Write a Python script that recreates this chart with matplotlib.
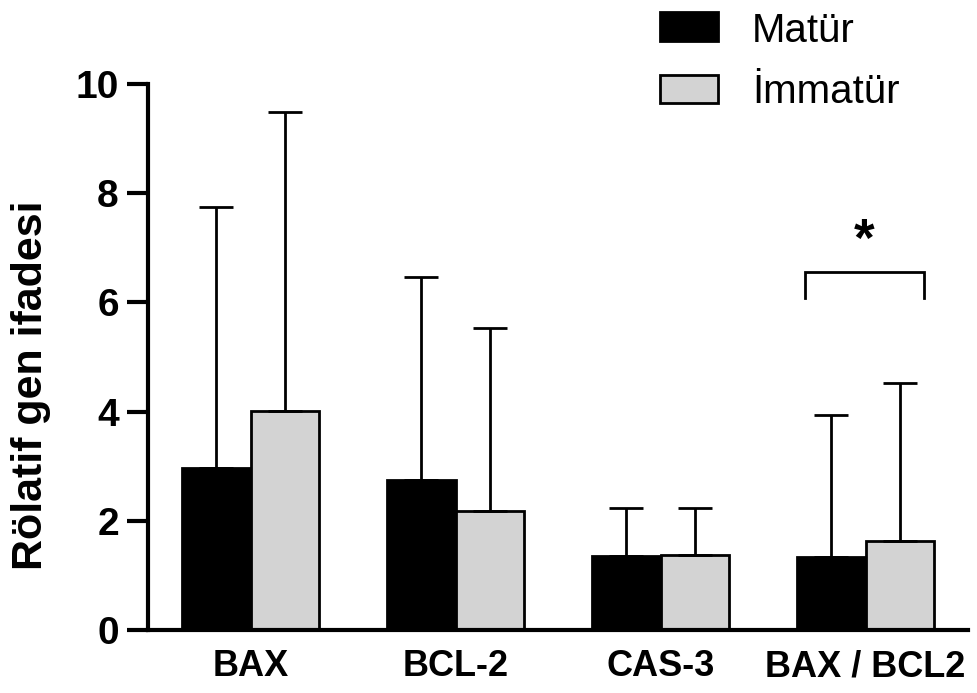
import matplotlib
matplotlib.use("Agg")
import matplotlib.pyplot as plt
import numpy as np
from matplotlib.patches import Rectangle

categories = ["BAX", "BCL-2", "CAS-3", "BAX / BCL2"]
series_names = ["Matür", "İmmatür"]
matur_mean = [2.97, 2.75, 1.36, 1.34]
matur_upper = [7.75, 6.47, 2.23, 3.94]
immatur_mean = [4.01, 2.18, 1.38, 1.63]
immatur_upper = [9.49, 5.53, 2.23, 4.53]
y_ticks = [0, 2, 4, 6, 8, 10]
colors = ["black", "#d3d3d3"]

plt.rcParams['font.family'] = ['Liberation Sans', 'DejaVu Sans']

W, H = 977, 693
fig = plt.figure(figsize=(W/100, H/100), dpi=100)
ax = fig.add_axes([148/W, 1-630/H, (968-148)/W, (630-84)/H])

x = np.arange(len(categories))
w = 0.333
m_err = np.array(matur_upper) - np.array(matur_mean)
i_err = np.array(immatur_upper) - np.array(immatur_mean)

ekw = dict(elinewidth=2, capthick=2, ecolor='black')
ax.bar(x - w/2, matur_mean, w, color=colors[0], edgecolor='black', linewidth=2,
       yerr=[np.zeros(4), m_err], capsize=12, error_kw=ekw, zorder=2)
ax.bar(x + w/2, immatur_mean, w, color=colors[1], edgecolor='black', linewidth=2,
       yerr=[np.zeros(4), i_err], capsize=12, error_kw=ekw, zorder=2)

ax.set_ylim(0, 10)
ax.set_xlim(-0.5, 3.5)
ax.set_yticks(y_ticks)
ax.set_yticklabels([str(t) for t in y_ticks], fontsize=28, fontweight='bold')
ax.set_xticks(x)
ax.set_xticklabels(categories, fontsize=26, fontweight='bold')
ax.tick_params(axis='y', length=15, width=3, pad=6)
ax.tick_params(axis='x', length=0, pad=14)
for s in ['top', 'right']:
    ax.spines[s].set_visible(False)
for s in ['left', 'bottom']:
    ax.spines[s].set_linewidth(3)

fig.text(31.5/W, 1-385/H, "Rölatif gen ifadesi", rotation=90, ha='center', va='center',
         fontsize=31, fontweight='bold')

# significance bracket
bx0, bx1 = 2.707, 3.283
ax.plot([bx0, bx0, bx1, bx1], [6.08, 6.56, 6.56, 6.08], color='black', lw=2,
        solid_joinstyle='miter', clip_on=False)
ax.text((bx0 + bx1)/2, 7.1, "*", ha='center', va='center', fontsize=38, fontweight='bold')

# legend
for (y0, y1), c, lab, base in zip([(12, 41), (75, 103)], colors, series_names, [42, 103]):
    fig.add_artist(Rectangle((660/W, 1-y1/H), 58/W, (y1-y0)/H, transform=fig.transFigure,
                             facecolor=c, edgecolor='black', linewidth=2))
    fig.text(752/W, 1-base/H, lab, ha='left', va='baseline', fontsize=29)

fig.savefig("out.png", dpi=100)
